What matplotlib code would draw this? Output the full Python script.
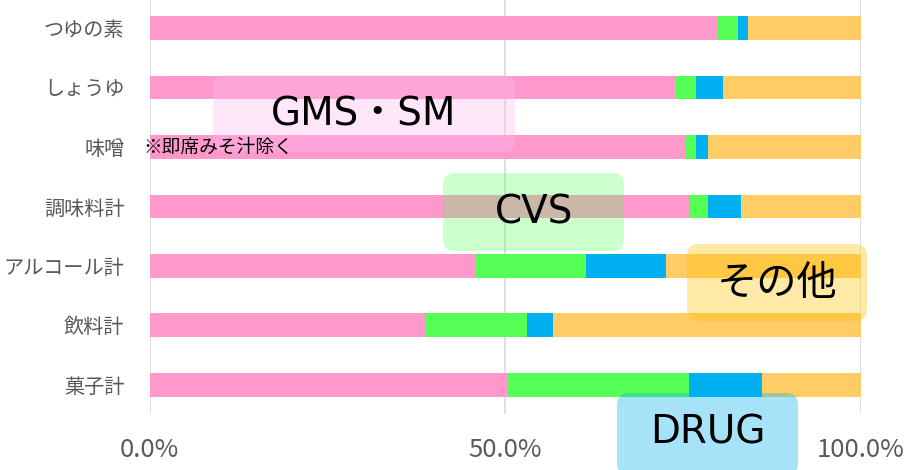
import numpy as np
import matplotlib.pyplot as plt
from matplotlib.patches import FancyBboxPatch

plt.rcParams['font.family'] = ['Noto Sans CJK JP', 'DejaVu Sans']

categories = ['つゆの素', 'しょうゆ', '味噌', '調味料計', 'アルコール計', '飲料計', '菓子計']
gms_sm = [80.0, 74.0, 75.3, 75.8, 45.7, 38.8, 50.3]
cvs = [2.8, 2.9, 1.6, 2.7, 15.7, 14.3, 25.6]
drug = [1.4, 3.7, 1.6, 4.7, 11.2, 3.6, 10.2]
other = [15.8, 19.4, 21.5, 16.8, 27.4, 43.3, 13.9]
xticks = [0, 50, 100]
xtick_labels = ['0.0%', '50.0%', '100.0%']

series = [gms_sm, cvs, drug, other]
colors = ['#ff99cc', '#55ff55', '#00b0f0', '#ffcc66']

fig = plt.figure(figsize=(9.14, 4.70), dpi=100)
ax = fig.add_axes([149.5 / 914, 1 - 414.4 / 470, (860.7 - 149.5) / 914, 416 / 470])

y = np.arange(len(categories))
left = np.zeros(len(categories))
for vals, c in zip(series, colors):
    ax.barh(y, vals, left=left, height=0.4, color=c, zorder=2)
    left += np.array(vals)

ax.set_xlim(0, 100)
ax.set_ylim(6.5, -0.5)
ax.set_yticks(y)
ax.set_yticklabels(categories, fontsize=14.5, color='#595959')
ax.set_xticks(xticks)
ax.set_xticklabels(xtick_labels, fontsize=18.5, color='#595959')
ax.tick_params(axis='both', length=0)
ax.tick_params(axis='y', pad=18)
ax.tick_params(axis='x', pad=16)
ax.grid(axis='x', color='#d9d9d9', linewidth=1.2, zorder=0)
for s in ax.spines.values():
    s.set_visible(False)


def label_box(x0, y0, x1, y1, fc, alpha, text, tx, ty, size, family):
    # pixel coords, y measured from top
    box = FancyBboxPatch((x0 / 100, (470 - y1) / 100), (x1 - x0) / 100, (y1 - y0) / 100,
                         boxstyle='round,pad=0,rounding_size=0.12',
                         transform=fig.dpi_scale_trans, facecolor=fc, alpha=alpha,
                         edgecolor='none', zorder=3)
    fig.add_artist(box)
    fig.text(tx / 914, 1 - ty / 470, text, fontsize=size, family=family,
             ha='center', va='center', color='black', zorder=4)


latin = ['DejaVu Sans', 'Noto Sans CJK JP']
label_box(213, 75, 515, 152, '#ffbbf0', 0.34, 'GMS・SM', 364, 115, 28, latin)
label_box(443, 173, 624, 251, '#55ff55', 0.3, 'CVS', 534, 213, 28, latin)
label_box(687, 244, 867, 321, '#ffc000', 0.35, 'その他', 777, 283, 29, ['Noto Sans CJK JP'])
label_box(617, 393, 798, 475, '#00b0f0', 0.35, 'DRUG', 708, 433, 28, latin)

fig.text(143 / 914, 1 - 147 / 470, '※即席みそ汁除く', fontsize=13.5, color='black',
         ha='left', va='center', zorder=5)

fig.savefig('out.png', dpi=100)
